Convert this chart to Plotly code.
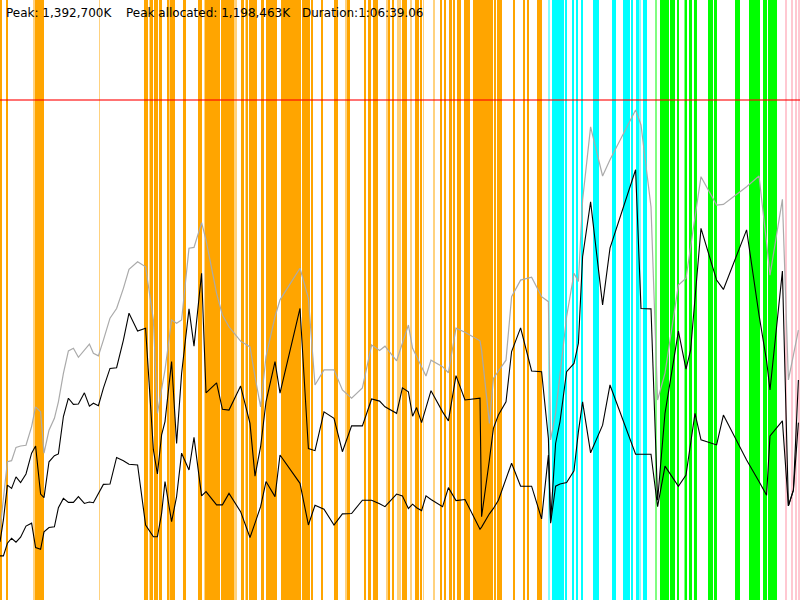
import plotly.graph_objects as go

# memory timeline: time in seconds, memory in thousands of K
times = [0, 17, 37, 58, 80, 103, 130, 158, 178, 203,
         220, 245, 272, 292, 317, 342, 367, 392, 422, 447,
         467, 492, 517, 550, 583, 617, 645, 688, 728, 767,
         787, 808, 825, 858, 883, 908, 945, 970, 1008, 1030,
         1083, 1112, 1145, 1203, 1250, 1275, 1303, 1330, 1375, 1400,
         1500, 1542, 1575, 1620, 1670, 1712, 1758, 1812, 1858, 1898,
         1925, 1983, 2012, 2042, 2063, 2083, 2108, 2130, 2155, 2213,
         2242, 2280, 2325, 2400, 2408, 2447, 2467, 2492, 2530, 2558,
         2603, 2658, 2708, 2742, 2753, 2778, 2800, 2833, 2870, 2892,
         2913, 2953, 3013, 3050, 3178, 3205, 3255, 3288, 3325, 3392,
         3430, 3453, 3475, 3505, 3583, 3617, 3733, 3795, 3833, 3850,
         3912, 3942, 3967, 3992]

total_k = [195, 292, 385, 388, 425, 429, 431, 483, 538, 524,
           409, 473, 506, 552, 631, 694, 701, 676, 696, 713,
           687, 680, 724, 785, 812, 868, 921, 942, 928, 780,
           520, 585, 641, 780, 771, 780, 980, 982, 1051, 1003,
           854, 794, 761, 721, 705, 622, 538, 678, 789, 836,
           924, 840, 599, 641, 641, 585, 562, 591, 710, 695,
           707, 666, 715, 766, 701, 678, 645, 624, 668, 650,
           633, 757, 746, 722, 696, 492, 617, 636, 668, 845,
           891, 899, 845, 831, 446, 520, 622, 789, 910, 887,
           1114, 1318, 1181, 1226, 1365, 1323, 1095, 557, 632, 877,
           896, 984, 1077, 1179, 1100, 1102, 1151, 1181, 994, 905,
           1116, 613, 682, 752]

alloc_k = [162, 223, 320, 311, 343, 327, 351, 409, 429, 295,
           285, 385, 402, 407, 511, 562, 545, 546, 577, 540,
           548, 541, 590, 645, 647, 724, 799, 749, 757, 418,
           351, 460, 497, 664, 436, 631, 811, 707, 910, 577,
           605, 531, 529, 596, 492, 345, 427, 552, 664, 576,
           812, 422, 416, 524, 506, 413, 485, 485, 560, 554,
           538, 520, 591, 580, 512, 536, 494, 538, 583, 524,
           499, 625, 557, 562, 232, 390, 478, 515, 552, 692,
           758, 638, 636, 450, 218, 436, 497, 636, 659, 715,
           956, 1109, 822, 980, 1198.5, 812, 811, 278, 520, 749,
           643, 696, 838, 1035, 891, 865, 1031, 794, 666, 585,
           916, 262, 306, 613]

used_k = [123, 123, 158, 172, 161, 175, 206, 214, 146, 141,
          190, 202, 204, 257, 283, 272, 272, 288, 269, 273,
          271, 297, 322, 323, 397, 388, 378, 376, 209, 176,
          176, 241, 330, 218, 288, 409, 362, 453, 290, 302,
          265, 265, 297, 246, 174, 214, 260, 330, 288, 404,
          325, 209, 264, 253, 209, 240, 241, 278, 278, 268,
          260, 295, 290, 255, 267, 257, 249, 290, 280, 260,
          313, 277, 280, 197, 203, 240, 255, 278, 339, 381,
          317, 317, 226, 404, 214, 317, 323, 327, 360, 469,
          552, 410, 487, 599, 406, 406, 406, 260, 373, 317,
          348, 436, 520, 446, 432, 515, 390, 330, 292, 457,
          499, 262, 306, 494]

peak_k = 1392.7

# activity bands (seconds)
orange_start = [0, 30, 173, 720, 750, 770, 795, 835, 850, 915,
                990, 1027, 1103, 1205, 1233, 1245, 1305, 1328, 1403, 1511,
                1558, 1605, 1670, 1733, 1822, 1838, 1863, 1942, 1958,
                2008, 2075, 2087, 2100, 2203, 2222, 2243, 2267, 2283, 2322,
                2363, 2472, 2487, 2563, 2613, 2633, 2683]
orange_end = [8, 37, 220, 740, 764, 790, 810, 842, 875, 928,
              1010, 1100, 1170, 1222, 1238, 1287, 1322, 1387, 1503, 1550,
              1563, 1613, 1692, 1750, 1828, 1853, 1892, 1950, 1972,
              2037, 2082, 2095, 2112, 2208, 2228, 2262, 2277, 2303, 2350,
              2463, 2480, 2508, 2573, 2623, 2645, 2708]
orange_light_start = [167, 495, 745, 842, 1020, 1170, 1227, 1725, 1930, 1983, 2050, 2113, 2167]
orange_light_end = [173, 500, 750, 850, 1027, 1183, 1230, 1733, 1942, 2005, 2062, 2118, 2177]

cyan_start = [2762, 2825, 2858, 2878, 2908, 2963, 3058, 3117, 3155, 3178, 3213]
cyan_end = [2820, 2837, 2870, 2888, 2917, 2995, 3080, 3150, 3167, 3197, 3233]
cyan_light_start = [2742, 3197]
cyan_light_end = [2750, 3205]

green_start = [3300, 3322, 3350, 3383, 3428, 3445, 3472, 3542, 3570, 3675,
               3743, 3762, 3787, 3817, 3842, 3857]
green_end = [3320, 3345, 3375, 3395, 3433, 3458, 3483, 3567, 3583, 3700,
             3758, 3783, 3800, 3837, 3853, 3883]
green_light_start = [3275, 3422]
green_light_end = [3287, 3427]

pink_start = [3925, 3953, 3975, 3992]
pink_end = [3937, 3967, 3983, 4000]

y_top = 1671.2

fig = go.Figure()


def add_bands(starts, ends, color):
    fig.add_trace(go.Bar(
        x=[(s + e) / 2 for s, e in zip(starts, ends)],
        width=[e - s for s, e in zip(starts, ends)],
        y=[y_top] * len(starts), base=0,
        marker=dict(color=color, line=dict(width=0)),
        hoverinfo='skip', showlegend=False,
    ))


add_bands(orange_light_start, orange_light_end, 'rgba(255,165,0,0.5)')
add_bands(orange_start, orange_end, '#FFA500')
add_bands(cyan_light_start, cyan_light_end, 'rgba(0,255,255,0.5)')
add_bands(cyan_start, cyan_end, '#00FFFF')
add_bands(green_light_start, green_light_end, 'rgba(0,255,0,0.5)')
add_bands(green_start, green_end, '#00FF00')
add_bands(pink_start, pink_end, '#FFC8D2')

fig.add_trace(go.Scatter(x=times, y=total_k, mode='lines',
                         line=dict(color='#AAAAAA', width=1.2), showlegend=False))
fig.add_trace(go.Scatter(x=times, y=alloc_k, mode='lines',
                         line=dict(color='black', width=1.1), showlegend=False))
fig.add_trace(go.Scatter(x=times, y=used_k, mode='lines',
                         line=dict(color='black', width=1.1), showlegend=False))

fig.add_shape(type='line', xref='paper', x0=0, x1=1, yref='y', y0=peak_k, y1=peak_k,
              line=dict(color='rgba(255,0,0,0.55)', width=2))

labels = ["Peak: 1,392,700K", "Peak allocated: 1,198,463K", "Duration:1:06:39.06"]
label_x = [4, 124, 300]
for txt, px in zip(labels, label_x):
    fig.add_annotation(text=txt, xref='paper', yref='paper', x=px / 800, y=1 - 13 / 600,
                       xanchor='left', yanchor='middle', showarrow=False,
                       font=dict(family='DejaVu Sans', size=12, color='black'))

fig.update_layout(
    width=800, height=600,
    margin=dict(l=0, r=0, t=0, b=0),
    paper_bgcolor='white', plot_bgcolor='white',
    barmode='overlay', bargap=0,
    xaxis=dict(range=[0, 4000], visible=False, fixedrange=True),
    yaxis=dict(range=[0, y_top], visible=False, fixedrange=True),
)

# drop the page's default body margin so the figure sits at the window corner
fig.write_html("out.html", config={'displayModeBar': False},
               post_script="document.body.style.margin='0';")
